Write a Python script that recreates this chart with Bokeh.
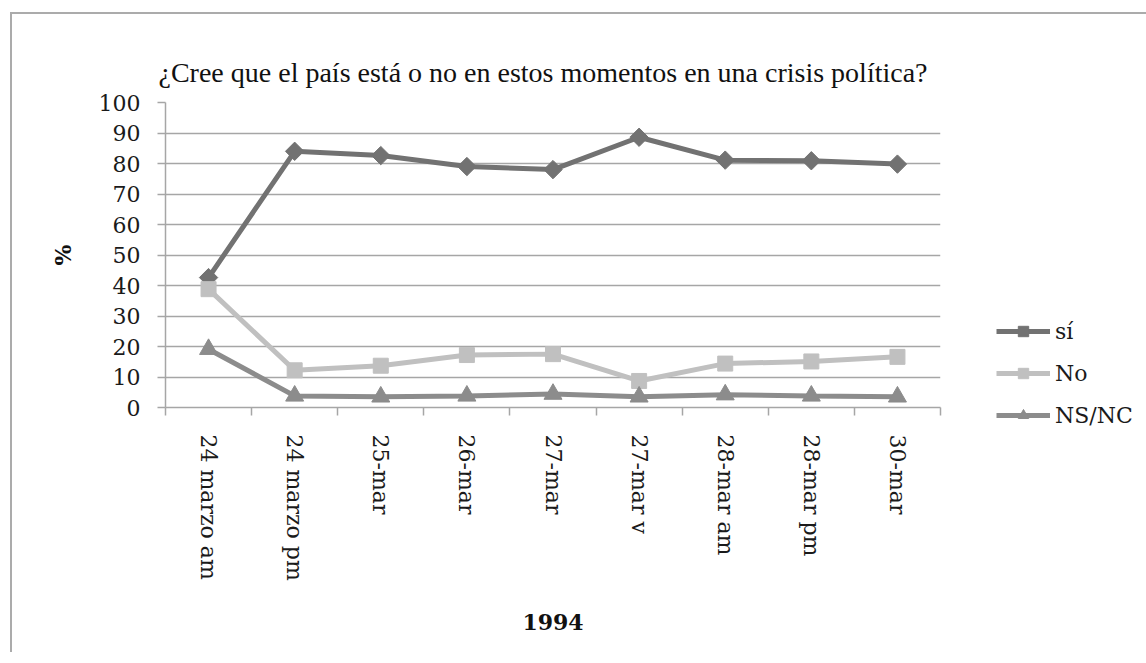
import math
from bokeh.plotting import figure
from bokeh.models import (Range1d, FixedTicker, Legend, LegendItem, Title)
from bokeh.embed import file_html
from bokeh.resources import INLINE

title_text = "¿Cree que el país está o no en estos momentos en una crisis política?"
categories = ["24 marzo am", "24 marzo pm", "25-mar", "26-mar", "27-mar",
              "27-mar v", "28-mar am", "28-mar pm", "30-mar"]
si = [42.6, 84.0, 82.6, 79.0, 78.0, 88.6, 81.1, 80.9, 79.8]
no = [38.8, 12.2, 13.7, 17.2, 17.5, 8.7, 14.4, 15.1, 16.6]
nsnc = [19.1, 3.8, 3.5, 3.8, 4.4, 3.5, 4.2, 3.8, 3.5]
series_names = ["sí", "No", "NS/NC"]
y_ticks = list(range(0, 101, 10))
x_label = "1994"
y_label = "%"

# category slots on a linear axis: each category occupies one unit, centred on i + 0.5
x_pos = [i + 0.5 for i in range(len(categories))]
x_bounds = list(range(len(categories) + 1))

GRID = "#a6a6a6"
C_SI = "#727272"
C_NO = "#c0c0c0"
C_NS = "#8c8c8c"
SERIF = "DejaVu Serif"

p = figure(x_range=Range1d(0, len(categories)), y_range=Range1d(0, 100),
           frame_width=775, frame_height=305,
           min_border_left=153, min_border_right=200, min_border_top=88, min_border_bottom=245,
           output_backend="svg", toolbar_location=None)
p.styles = {"margin-left": "10px", "margin-top": "12px",
            "border-top": "2px solid #ababab", "border-left": "2px solid #ababab"}
p.outline_line_color = None
p.background_fill_color = "white"
p.border_fill_color = "white"

p.title = Title(text=title_text, align="left", offset=-7, text_font="Liberation Serif",
                text_font_size="28px", text_font_style="normal", text_color="#111111",
                standoff=29)

# y axis
ya = p.yaxis[0]
ya.ticker = FixedTicker(ticks=y_ticks)
ya.axis_line_color = GRID
ya.axis_line_width = 1.5
ya.major_tick_line_color = GRID
ya.major_tick_line_width = 1.5
ya.major_tick_out = 8
ya.major_tick_in = 0
ya.minor_tick_line_color = None
ya.major_label_standoff = 17
ya.major_label_text_font = SERIF
ya.major_label_text_font_size = "22px"
ya.major_label_text_color = "#1a1a1a"
ya.axis_label = y_label
ya.axis_label_text_font = SERIF
ya.axis_label_text_font_size = "22px"
ya.axis_label_text_font_style = "bold"
ya.axis_label_text_color = "#111111"
ya.axis_label_standoff = 20

p.ygrid.grid_line_color = GRID
p.ygrid.grid_line_width = 1.5
p.xgrid.grid_line_color = None

# x axis: labels at slot centres, tick marks at slot boundaries
xa = p.xaxis[0]
xa.ticker = FixedTicker(ticks=x_pos, minor_ticks=x_bounds)
xa.major_label_overrides = {x: c for x, c in zip(x_pos, categories)}
xa.axis_line_color = GRID
xa.axis_line_width = 1.5
xa.major_tick_line_color = None
xa.major_tick_out = 0
xa.major_tick_in = 0
xa.minor_tick_line_color = GRID
xa.minor_tick_line_width = 1.5
xa.minor_tick_out = 8
xa.minor_tick_in = 0
xa.major_label_orientation = "vertical"
xa.major_label_standoff = 19
xa.major_label_text_font = SERIF
xa.major_label_text_font_size = "22px"
xa.major_label_text_color = "#1a1a1a"
xa.axis_label = x_label
xa.axis_label_text_font = SERIF
xa.axis_label_text_font_size = "22px"
xa.axis_label_text_font_style = "bold"
xa.axis_label_text_color = "#111111"
xa.axis_label_standoff = 30

# series
l1 = p.line(x_pos, si, line_color=C_SI, line_width=5)
s1 = p.scatter(x_pos, si, marker="square", angle=math.pi / 4, size=13,
               fill_color=C_SI, line_color=C_SI)
l2 = p.line(x_pos, no, line_color=C_NO, line_width=5)
s2 = p.scatter(x_pos, no, marker="square", size=15, fill_color=C_NO, line_color=C_NO)
l3 = p.line(x_pos, nsnc, line_color=C_NS, line_width=5)
s3 = p.scatter(x_pos, nsnc, marker="triangle", size=18, fill_color=C_NS, line_color=C_NS)

legend = Legend(items=[LegendItem(label=series_names[0], renderers=[l1, s1]),
                       LegendItem(label=series_names[1], renderers=[l2, s2]),
                       LegendItem(label=series_names[2], renderers=[l3, s3])],
                location=(56, -21), orientation="vertical",
                padding=0, margin=0, border_line_color=None, background_fill_alpha=0,
                glyph_width=54, glyph_height=26, label_height=26, spacing=16,
                label_standoff=5, label_text_font=SERIF, label_text_font_size="22px",
                label_text_color="#1a1a1a")
p.add_layout(legend, "right")

open("out.html", "w").write(file_html(p, INLINE))
